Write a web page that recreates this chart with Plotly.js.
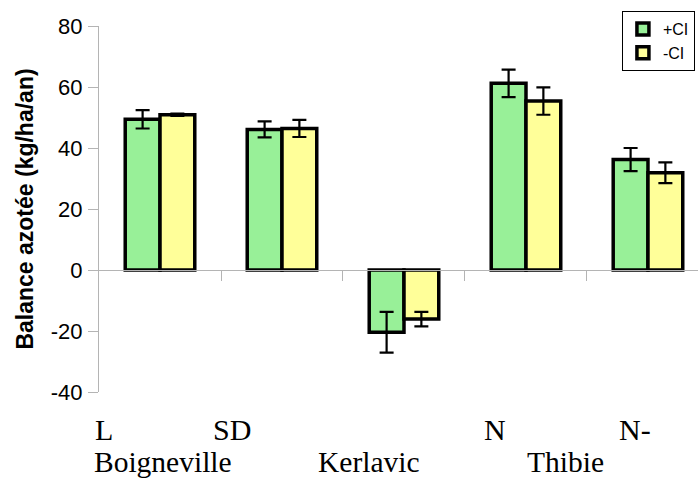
<!DOCTYPE html>
<html>
<head>
<meta charset="utf-8">
<script src="https://cdn.plot.ly/plotly-3.0.1.min.js"></script>
<style>html,body{margin:0;padding:0;background:#fff;}#chart{width:698px;height:481px;}</style>
</head>
<body>
<div id="chart"></div>
<script>
// ---- data ----
const categories = ["L", "SD", "Kerlavic", "N", "N-"];
const seriesNames = ["+CI", "-CI"];
const plusCI = [49.4, 46.1, -20.4, 61.2, 36.2];
const plusCIerr = [3.0, 2.6, 6.7, 4.5, 3.8];
const minusCI = [50.9, 46.4, -16.1, 55.4, 31.9];
const minusCIerr = [0.4, 2.8, 2.4, 4.5, 3.4];
const subLabels = ["L", "SD", "N", "N-"];
const subLabelPos = [-0.463, 0.594, 2.746, 3.893];
const siteLabels = ["Boigneville", "Kerlavic", "Thibie"];
const siteLabelPos = [0.025, 1.713, 3.32];
const yTickVals = [-40, -20, 0, 20, 40, 60, 80];
const yTickText = ["-40", "-20", "0", "20", "40", "60", "80"];

const xIdx = categories.map((c, i) => i);

const errStyle = {type: "data", visible: true, color: "#000", thickness: 2.2, width: 7};

const traces = [
  {
    type: "bar", name: seriesNames[0], x: xIdx, y: plusCI,
    marker: {color: "#98F098", line: {color: "#000", width: 3.5}},
    error_y: Object.assign({array: plusCIerr}, errStyle),
    hoverinfo: "none"
  },
  {
    type: "bar", name: seriesNames[1], x: xIdx, y: minusCI,
    marker: {color: "#FFFF99", line: {color: "#000", width: 3.5}},
    error_y: Object.assign({array: minusCIerr}, errStyle),
    hoverinfo: "none"
  }
];

const serif = {family: "Liberation Serif, Times New Roman, serif", color: "#000"};
const annotations = [];
subLabels.forEach((t, i) => annotations.push({
  text: t, x: subLabelPos[i], xref: "x", y: -0.1038, yref: "paper",
  xanchor: "center", yanchor: "middle", showarrow: false,
  font: Object.assign({size: 30}, serif)
}));
siteLabels.forEach((t, i) => annotations.push({
  text: t, x: siteLabelPos[i], xref: "x", y: -0.2395, yref: "paper",
  xanchor: "center", yanchor: "bottom", showarrow: false,
  font: Object.assign({size: 29.5}, serif)
}));

const layout = {
  width: 698, height: 481,
  margin: {l: 99, r: 0, t: 26, b: 89, pad: 0},
  paper_bgcolor: "#fff", plot_bgcolor: "#fff",
  barmode: "group", bargap: 0.43, bargroupgap: 0,
  showlegend: true,
  legend: {
    x: 0.873, y: 1.041, xanchor: "left", yanchor: "top",
    bgcolor: "#fff", bordercolor: "#000", borderwidth: 1,
    font: {family: "Liberation Sans, Arial, sans-serif", size: 16, color: "#000"}
  },
  xaxis: {
    type: "linear", range: [-0.5, 4.41],
    anchor: "free", position: 1/3,
    showline: true, linecolor: "#b4b4b4", linewidth: 1,
    ticks: "outside", tickcolor: "#b4b4b4", ticklen: 10,
    tickvals: [0.5, 1.5, 2.5, 3.5], showticklabels: false,
    showgrid: false, zeroline: false, fixedrange: true
  },
  yaxis: {
    range: [-40, 80], tickvals: yTickVals, ticktext: yTickText,
    showline: true, linecolor: "#b4b4b4", linewidth: 1,
    ticks: "outside", tickcolor: "#b4b4b4", ticklen: 10,
    showgrid: false, zeroline: false,
    tickfont: {family: "Liberation Sans, Arial, sans-serif", size: 22, color: "#000"},
    ticklabelstandoff: 1,
    title: {text: "<b>Balance azotée (kg/ha/an)</b>", standoff: 10,
      font: {family: "Liberation Sans, Arial, sans-serif", size: 23, color: "#000"}},
    fixedrange: true
  },
  annotations: annotations
};

Plotly.newPlot("chart", traces, layout, {displayModeBar: false, staticPlot: true});
</script>
</body>
</html>
